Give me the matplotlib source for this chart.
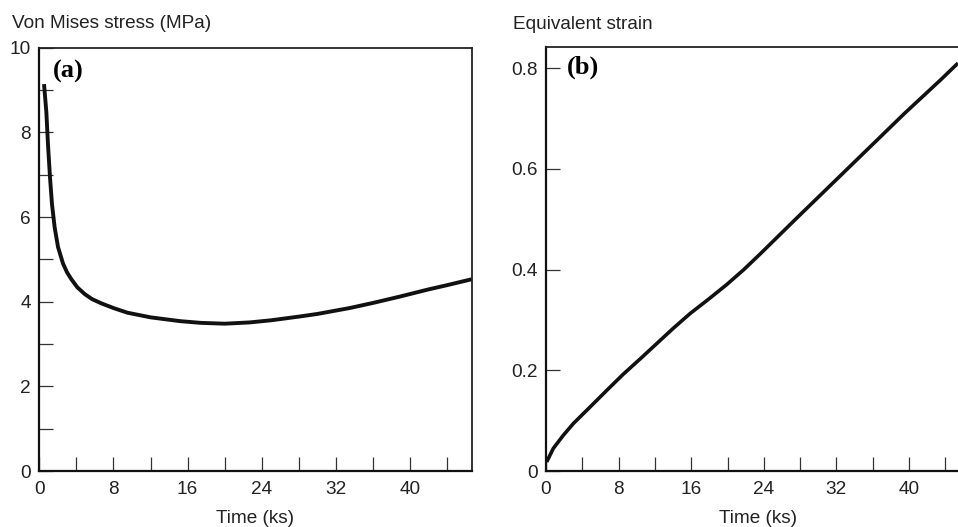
import matplotlib
matplotlib.use("Agg")
import matplotlib.pyplot as plt
import numpy as np

plt.rcParams['font.family'] = ['Liberation Sans', 'DejaVu Sans']

# Panel (a): Von Mises stress vs time
time_a = [0.51, 0.76, 0.94, 1.16, 1.37, 1.66, 2.02, 2.56, 3.0, 3.46, 4.1, 4.9, 5.7, 6.7,
          8.0, 9.5, 12.0, 15.2, 17.4, 20.0, 22.7, 25.0, 28.1, 30.0, 33.5, 36.0, 38.9,
          42.0, 44.0, 46.66]
stress = [9.14, 8.48, 7.70, 6.92, 6.30, 5.75, 5.29, 4.90, 4.69, 4.53, 4.34, 4.18, 4.06, 3.96,
          3.85, 3.74, 3.63, 3.54, 3.50, 3.48, 3.51, 3.56, 3.65, 3.71, 3.85, 3.97, 4.12,
          4.29, 4.39, 4.53]

# Panel (b): Equivalent strain vs time
time_b = [0.07, 0.81, 1.91, 3.0, 4.85, 6.69, 8.5, 10.4, 12.2, 14.0, 15.9, 17.9, 19.9,
          21.8, 23.6, 27.5, 31.5, 35.5, 39.5, 43.5, 45.4]
strain = [0.018, 0.045, 0.071, 0.094, 0.127, 0.160, 0.192, 0.223, 0.253, 0.283, 0.313,
          0.341, 0.370, 0.400, 0.431, 0.500, 0.570, 0.640, 0.710, 0.777, 0.810]

x_ticks = list(range(0, 45, 4))
x_labels = ['0', '', '8', '', '16', '', '24', '', '32', '', '40', '']
ya_ticks = list(range(0, 11))
ya_labels = ['0', '', '2', '', '4', '', '6', '', '8', '', '10']
yb_ticks = [0, 0.2, 0.4, 0.6, 0.8]
yb_labels = ['0', '0.2', '0.4', '0.6', '0.8']

W, H = 958, 527
fig = plt.figure(figsize=(W / 100, H / 100), dpi=100)

def px_axes(x0, x1, y0, y1):
    return fig.add_axes([x0 / W, 1 - y1 / H, (x1 - x0) / W, (y1 - y0) / H])

ax1 = px_axes(39.3, 471.7, 47.7, 471)
ax2 = px_axes(546, 546 + 46.66 * 9.075, 47.0, 471)

FS = 13.7
for ax in (ax1, ax2):
    ax.set_xlim(0, 46.66)
    ax.set_xticks(x_ticks)
    ax.set_xticklabels(x_labels)
    ax.tick_params(direction='in', length=10.3, width=0.9, color='#333333',
                   labelsize=FS, labelcolor='#222222')
    ax.tick_params(axis='y', pad=6.0)
    ax.tick_params(axis='x', pad=7.0)
    for s in ('left', 'bottom'):
        ax.spines[s].set_linewidth(1.6)
        ax.spines[s].set_color('#111111')
    for s in ('right', 'top'):
        ax.spines[s].set_linewidth(1.3)
        ax.spines[s].set_color('#222222')
    ax.set_xlabel('Time (ks)', fontsize=FS, color='#222222', labelpad=9)

ax1.plot(time_a, stress, color='#111111', lw=2.8, solid_capstyle='butt')
ax1.set_ylim(0, 10)
ax1.set_yticks(ya_ticks)
ax1.set_yticklabels(ya_labels)

ax2.plot(time_b, strain, color='#111111', lw=2.6, solid_capstyle='butt')
ax2.set_ylim(0, 0.842)
ax2.set_yticks(yb_ticks)
ax2.set_yticklabels(yb_labels)

fig.text(12 / W, 1 - 24 / H, 'Von Mises stress (MPa)', fontsize=FS, color='#222222',
         va='center', ha='left')
fig.text(513 / W, 1 - 24.5 / H, 'Equivalent strain', fontsize=FS, color='#222222',
         va='center', ha='left')

fig.text(53 / W, 1 - 71 / H, '(a)', fontsize=19, fontweight='bold',
         family='Liberation Serif', va='center', ha='left')
fig.text(567 / W, 1 - 67 / H, '(b)', fontsize=19, fontweight='bold',
         family='Liberation Serif', va='center', ha='left')

fig.savefig('out.png', dpi=100)
